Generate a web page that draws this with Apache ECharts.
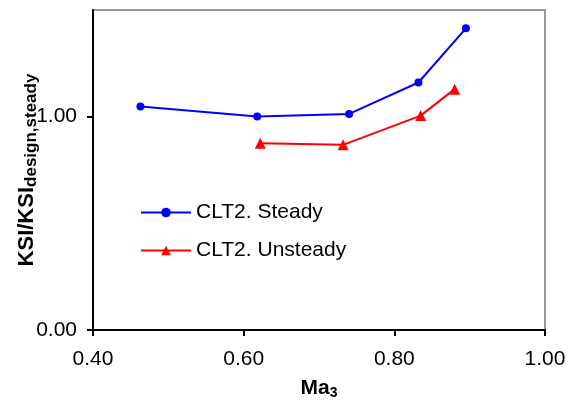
<!DOCTYPE html>
<html>
<head>
<meta charset="utf-8">
<script src="https://cdn.jsdelivr.net/npm/echarts@6/dist/echarts.min.js"></script>
<style>
    html, body { margin: 0; padding: 0; background: #fff; }
    #chart { width: 575px; height: 403px; }
</style>
</head>
<body>
<div id="chart"></div>
<script>
// 数据
const steadyMa = [0.463, 0.618, 0.740, 0.832, 0.895];
const steadyKsi = [1.048, 1.001, 1.013, 1.160, 1.414];
const unsteadyMa = [0.622, 0.732, 0.835, 0.880];
const unsteadyKsi = [0.875, 0.868, 1.005, 1.129];
const xTicks = [0.4, 0.6, 0.8, 1.0];
const yTicks = [0, 1];

const font = 'Liberation Sans, Arial, sans-serif';
const chart = echarts.init(document.getElementById('chart'));

const pair = (xs, ys) => xs.map((x, i) => [x, ys[i]]);

chart.setOption({
    animation: false,
    textStyle: { fontFamily: font },
    grid: {
        left: 93, right: 30, top: 10, bottom: 73,
        outerBoundsMode: 'none',
        show: true,
        borderColor: '#999',
        borderWidth: 2,
        backgroundColor: '#fff'
    },
    legend: {
        orient: 'vertical',
        left: 135,
        top: 197,
        itemWidth: 50,
        itemHeight: 12,
        itemGap: 17,
        textStyle: { fontSize: 21, lineHeight: 21, color: '#000', fontFamily: font },
        data: ['CLT2. Steady', 'CLT2. Unsteady']
    },
    xAxis: {
        type: 'value',
        min: 0.4,
        max: 1.0,
        interval: 0.2,
        splitLine: { show: false },
        axisLine: { lineStyle: { color: '#000', width: 2 } },
        axisTick: { length: 6, lineStyle: { color: '#000', width: 2 }, customValues: xTicks },
        axisLabel: {
            customValues: xTicks,
            fontSize: 21, color: '#000', margin: 19,
            formatter: v => v.toFixed(2)
        },
        name: '{b|Ma}{s|3}',
        nameLocation: 'middle',
        nameGap: 46,
        nameMoveOverlap: false,
        nameTextStyle: {
            rich: {
                b: { fontSize: 21, fontWeight: 'bold', color: '#000', fontFamily: font },
                s: { fontSize: 14, fontWeight: 'bold', color: '#000', fontFamily: font, padding: [10, 0, 0, 0] }
            }
        }
    },
    yAxis: {
        type: 'value',
        min: 0,
        max: 1.5,
        splitLine: { show: false },
        axisLine: { lineStyle: { color: '#000', width: 2 } },
        axisTick: { length: 6, lineStyle: { color: '#000', width: 2 }, customValues: yTicks },
        axisLabel: {
            customValues: yTicks,
            fontSize: 21, color: '#000', margin: 16,
            formatter: v => v.toFixed(2)
        },
        name: '{b|KSI/KSI}{s|design,steady}',
        nameLocation: 'middle',
        nameRotate: 90,
        nameGap: 53,
        nameMoveOverlap: false,
        nameTextStyle: {
            rich: {
                b: { fontSize: 22, fontWeight: 'bold', color: '#000', fontFamily: font },
                s: { fontSize: 17, fontWeight: 'bold', color: '#000', fontFamily: font, padding: [10, 0, 0, 0] }
            }
        }
    },
    series: [
        {
            name: 'CLT2. Steady',
            type: 'line',
            data: pair(steadyMa, steadyKsi),
            symbol: 'circle',
            symbolSize: 8,
            itemStyle: { color: '#0000ff' },
            lineStyle: { color: '#0000ff', width: 2 }
        },
        {
            name: 'CLT2. Unsteady',
            type: 'line',
            data: pair(unsteadyMa, unsteadyKsi),
            symbol: 'triangle',
            symbolSize: 11,
            itemStyle: { color: '#ff0000' },
            lineStyle: { color: '#ff0000', width: 2 }
        }
    ]
});
</script>
</body>
</html>
